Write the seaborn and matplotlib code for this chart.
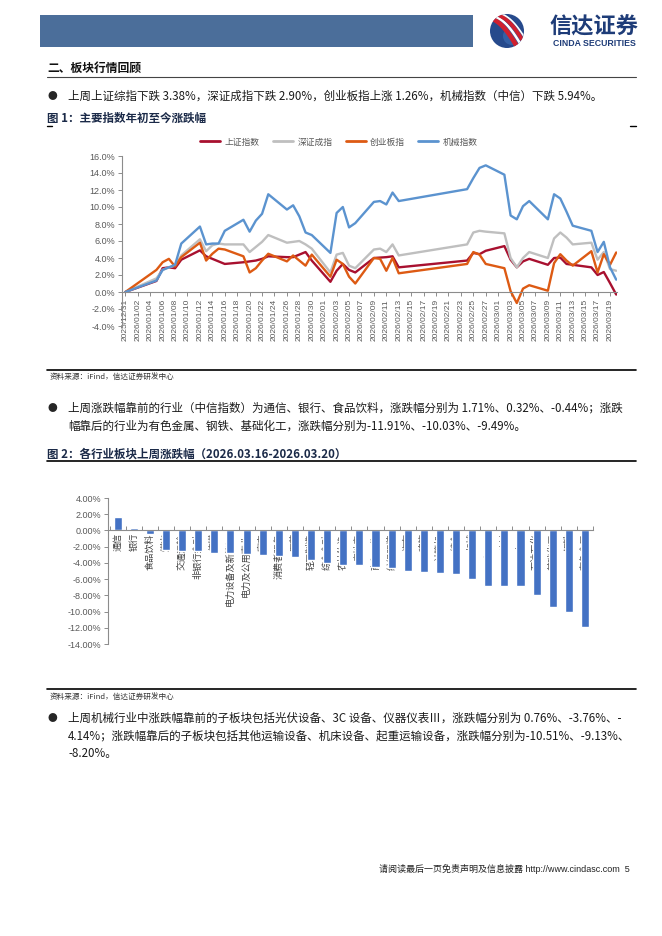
import pandas as pd
import numpy as np
import matplotlib
matplotlib.use('Agg')
import matplotlib.pyplot as plt
import matplotlib.dates as mdates
from matplotlib.patches import Rectangle, Circle
from matplotlib.lines import Line2D
import seaborn as sns

sns.set_theme(style='white')
plt.rcParams['font.family'] = ['Noto Sans CJK SC', 'DejaVu Sans']
plt.rcParams['axes.unicode_minus'] = False

W, H = 662, 936

# ---------------- data: figure 1 (cumulative change since 2025/12/31, %)
trade_days = ['2025-12-31',
              '2026-01-05', '2026-01-06', '2026-01-07', '2026-01-08', '2026-01-09',
              '2026-01-12', '2026-01-13', '2026-01-14', '2026-01-15', '2026-01-16',
              '2026-01-19', '2026-01-20', '2026-01-21', '2026-01-22', '2026-01-23',
              '2026-01-26', '2026-01-27', '2026-01-28', '2026-01-29', '2026-01-30',
              '2026-02-02', '2026-02-03', '2026-02-04', '2026-02-05', '2026-02-06',
              '2026-02-09', '2026-02-10', '2026-02-11', '2026-02-12', '2026-02-13',
              '2026-02-24', '2026-02-25', '2026-02-26', '2026-02-27',
              '2026-03-02', '2026-03-03', '2026-03-04', '2026-03-05', '2026-03-06',
              '2026-03-09', '2026-03-10', '2026-03-11', '2026-03-12', '2026-03-13',
              '2026-03-16', '2026-03-17', '2026-03-18', '2026-03-19', '2026-03-20']

sh_index = [0,
            1.3, 2.8, 2.9, 2.8, 3.8,
            4.9, 4.2, 3.9, 3.6, 3.3,
            3.5, 3.6, 3.7, 3.9, 4.2,
            4.1, 4.1, 4.4, 4.7, 3.7,
            1.2, 2.5, 3.3, 2.6, 2.3,
            4.0, 4.05, 4.1, 4.2, 2.9,
            3.7, 4.6, 4.45, 4.85,
            5.4, 3.8, 2.9, 3.6, 3.9,
            3.2, 4.0, 4.05, 3.3, 3.2,
            2.9, 2.0, 2.35, 1.05, -0.3]

sz_index = [0,
            1.6, 2.6, 2.9, 3.1, 4.3,
            6.2, 4.8, 5.5, 5.7, 5.6,
            5.6, 4.7, 5.3, 5.9, 6.7,
            5.8, 5.9, 6.0, 5.6, 5.1,
            2.3, 4.4, 4.6, 3.1, 2.8,
            5.0, 5.1, 4.7, 5.6, 4.3,
            5.6, 7.0, 7.2, 7.1,
            6.9, 4.0, 2.9, 4.0, 4.7,
            4.0, 6.3, 7.0, 6.4, 5.6,
            5.8, 3.8, 4.7, 2.7, 2.5]

cyb_index = [0,
             2.6, 3.5, 3.9, 3.0, 4.1,
             5.8, 3.7, 4.5, 5.1, 5.0,
             4.2, 2.3, 2.8, 3.7, 4.5,
             3.6, 4.3, 3.7, 3.1, 4.4,
             1.8, 3.8, 3.3, 1.8, 1.0,
             4.0, 3.9, 2.5, 4.0, 2.2,
             3.3, 4.7, 4.4, 3.3,
             2.8, 0.1, -1.3, 0.4, 0.8,
             0.15, 3.4, 4.45, 3.7, 3.1,
             4.8, 2.3, 4.45, 3.2, 4.65]

jx_index = [0,
            1.35, 2.6, 2.9, 3.2, 5.7,
            7.7, 5.6, 5.7, 5.7, 7.2,
            8.5, 7.1, 8.4, 9.2, 11.5,
            9.7, 10.2, 8.9, 7.0, 6.7,
            4.6, 9.3, 10.0, 7.6, 8.1,
            10.6, 10.7, 10.3, 11.7, 10.7,
            12.1, 13.4, 14.6, 14.9,
            13.8, 9.0, 8.55, 10.1, 10.7,
            8.55, 11.5, 11.0, 9.45, 7.8,
            7.2, 4.7, 5.9, 2.9, 1.45]

series_names = ['上证指数', '深证成指', '创业板指', '机械指数']
series_colors = ['#A8102F', '#BFBFBF', '#DD5A13', '#5B93CF']

# ---------------- data: figure 2 (weekly change by CITIC industry, %)
industries = ['通信', '银行', '食品饮料', '煤炭', '交通运输', '非银行金融', '传媒',
              '电力设备及新能源', '电力及公用事业', '家电', '消费者服务', '医药',
              '轻工制造', '综合金融', '农林牧渔', '房地产', '商贸零售', '纺织服装',
              '汽车', '建筑', '计算机', '综合', '机械', '国防军工', '建材', '电子',
              '石油石化', '基础化工', '钢铁', '有色金属']
ind_change = [1.71, 0.32, -0.44, -2.35, -2.55, -2.58, -2.75,
              -2.82, -2.85, -3.00, -3.10, -3.30,
              -3.60, -4.00, -4.20, -4.25, -4.55, -4.67,
              -4.96, -5.17, -5.20, -5.40, -5.94, -6.80, -6.82, -6.90,
              -7.90, -9.49, -10.03, -11.91]

# ---------------- page texts
bullet1 = '上周上证综指下跌 3.38%，深证成指下跌 2.90%，创业板指上涨 1.26%，机械指数（中信）下跌 5.94%。'
bullet2 = ['上周涨跌幅靠前的行业（中信指数）为通信、银行、食品饮料，涨跌幅分别为 1.71%、0.32%、-0.44%；涨跌',
           '幅靠后的行业为有色金属、钢铁、基础化工，涨跌幅分别为-11.91%、-10.03%、-9.49%。']
bullet3 = ['上周机械行业中涨跌幅靠前的子板块包括光伏设备、3C 设备、仪器仪表Ⅲ，涨跌幅分别为 0.76%、-3.76%、-',
           '4.14%；涨跌幅靠后的子板块包括其他运输设备、机床设备、起重运输设备，涨跌幅分别为-10.51%、-9.13%、',
           '-8.20%。']
source = '资料来源：iFind，信达证券研发中心'

fig = plt.figure(figsize=(W / 100, H / 100), dpi=100)


def px_axes(left, top, right, bottom):
    return fig.add_axes([left / W, 1 - bottom / H, (right - left) / W, (bottom - top) / H])


page = fig.add_axes([0, 0, 1, 1])
page.set_xlim(0, W)
page.set_ylim(H, 0)
page.axis('off')

# header
page.add_patch(Rectangle((40, 15), 433, 32, color='#4B6E9A', lw=0))
ball = Circle((507, 31), 17, color='#264A8C', lw=0)
page.add_patch(ball)
page.add_patch(Circle((512, 36), 9, color='#3F6FB5', lw=0, alpha=0.6))
t = np.linspace(0, 1, 40)
for off, col, lw in [(-4, '#D0202E', 3.4), (0, 'white', 1.8), (3.5, '#D0202E', 2.8), (6.5, 'white', 1.2)]:
    xs = 488 + 36 * t + off
    ys = 14 + 36 * t - 8 * np.sin(np.pi * t) - off * 0.4
    ln, = page.plot(xs, ys, color=col, lw=lw, solid_capstyle='butt')
    ln.set_clip_path(ball)
page.text(594, 27, '信达证券', fontsize=16, fontweight='bold', color='#1E3C78',
          ha='center', va='center')
page.text(594, 43, 'CINDA SECURITIES', fontsize=6.3, fontweight='bold', color='#1E3C78',
          ha='center', va='center', family=['Liberation Sans', 'DejaVu Sans'])

body = dict(fontsize=8.3, va='center', color='#1a1a1a')
title_kw = dict(fontsize=8.3, fontweight='bold', va='center', color='#1B2A48')

page.text(47, 68, '二、板块行情回顾', fontsize=8.5, fontweight='bold', va='center', color='#111111')
page.plot([47, 636], [77, 77], color='#444444', lw=0.8)
page.text(47, 96, '●', fontsize=7, va='center')
page.text(68, 96, bullet1, **body)
page.text(47, 118, '图 1：主要指数年初至今涨跌幅', **title_kw)
page.plot([47, 52], [125.5, 125.5], color='black', lw=1)
page.plot([630, 636], [125.5, 125.5], color='black', lw=1)

page.plot([47, 636], [370, 370], color='black', lw=1.2)
page.text(50, 377, source, fontsize=5.5, va='center', color='#333333')

page.text(47, 408, '●', fontsize=7, va='center')
for i, line in enumerate(bullet2):
    page.text(68, 408 + 18 * i, line, **body)
page.text(47, 454, '图 2：各行业板块上周涨跌幅（2026.03.16-2026.03.20）', **title_kw)
page.plot([47, 636], [461, 461], color='black', lw=1.2)

page.plot([47, 636], [689, 689], color='black', lw=1.2)
page.text(50, 697, source, fontsize=5.5, va='center', color='#333333')

page.text(47, 718, '●', fontsize=7, va='center')
for i, line in enumerate(bullet3):
    page.text(68, 718 + 18 * i, line, **body)

page.text(630, 869, '请阅读最后一页免责声明及信息披露 http://www.cindasc.com  5', fontsize=6.5,
          ha='right', va='center', color='#222222',
          family=['Liberation Sans', 'Noto Sans CJK SC'])

num_font = ['Liberation Sans', 'DejaVu Sans']

# ---------------- figure 1: line chart
df = pd.DataFrame({'date': pd.to_datetime(trade_days)})
for name, vals in zip(series_names, [sh_index, sz_index, cyb_index, jx_index]):
    df[name] = vals
long_df = df.melt(id_vars='date', var_name='指数', value_name='涨跌幅')

ax1 = px_axes(122, 156, 617, 326)
ax1.patch.set_alpha(0)
sns.lineplot(data=long_df, x='date', y='涨跌幅', hue='指数', hue_order=series_names,
             palette=dict(zip(series_names, series_colors)), linewidth=1.7, ax=ax1,
             legend=False)
ax1.spines['bottom'].set_position(('data', 0))
for s in ['top', 'right']:
    ax1.spines[s].set_visible(False)
for s in ['left', 'bottom']:
    ax1.spines[s].set_color('#8C8C8C')
    ax1.spines[s].set_linewidth(0.8)
ax1.set_ylim(-4, 16)
ax1.set_xlim(mdates.date2num(pd.Timestamp('2025-12-30 11:00')),
             mdates.date2num(pd.Timestamp('2026-03-20 03:00')))
ticks = pd.date_range('2025-12-31', '2026-03-19', freq='2D')
ax1.set_xticks(mdates.date2num(ticks))
ax1.set_xticklabels([d.strftime('%Y/%m/%d') for d in ticks], rotation=90,
                    fontsize=6, color='#595959', family=num_font)
ax1.set_yticks(np.arange(-4, 17, 2))
ax1.set_yticklabels([f'{v:.1f}%' for v in np.arange(-4, 17, 2)], fontsize=6.5,
                    color='#595959', family=num_font)
ax1.tick_params(axis='both', which='major', direction='out', length=3, width=0.7,
                color='#8C8C8C', pad=2, bottom=True, left=True)
ax1.set_xlabel('')
ax1.set_ylabel('')
ax1.grid(False)

handles = [Line2D([0], [0], color=c, lw=2) for c in series_colors]
fig.legend(handles, series_names, loc='center', bbox_to_anchor=(339 / W, 1 - 142 / H),
           ncol=4, frameon=False, fontsize=6.3, handlelength=2.3, handletextpad=0.5,
           columnspacing=1.5, labelcolor='#595959')

# ---------------- figure 2: bar chart
ax2 = px_axes(108, 498, 593, 644)
ax2.patch.set_alpha(0)
sns.barplot(x=industries, y=ind_change, color='#4472C4', width=0.5, saturation=1,
            ax=ax2, zorder=2)
ax2.spines['bottom'].set_position(('data', 0))
for s in ['top', 'right']:
    ax2.spines[s].set_visible(False)
for s in ['left', 'bottom']:
    ax2.spines[s].set_color('#8C8C8C')
    ax2.spines[s].set_linewidth(0.8)
ax2.set_axisbelow(True)
ax2.set_ylim(-14, 4)
ax2.set_xlim(-0.6, 29.45)
ax2.set_yticks(np.arange(-14, 5, 2))
ax2.set_yticklabels([f'{v:.2f}%' for v in np.arange(-14, 5, 2)], fontsize=6.5,
                    color='#595959', family=num_font)
ax2.set_xticks(range(len(industries)))
ax2.set_xticklabels(industries, rotation=90, fontsize=6.6, color='#404040')
ax2.set_xticks(np.arange(-0.5, len(industries), 1), minor=True)
ax2.tick_params(axis='x', which='major', length=0, pad=2)
ax2.tick_params(axis='x', which='minor', direction='in', length=3, width=0.7,
                color='#8C8C8C', bottom=True)
ax2.tick_params(axis='y', direction='out', length=3, width=0.7, color='#8C8C8C',
                pad=2, left=True)
ax2.set_xlabel('')
ax2.set_ylabel('')
ax2.grid(False)

fig.savefig('out.png', dpi=100)
